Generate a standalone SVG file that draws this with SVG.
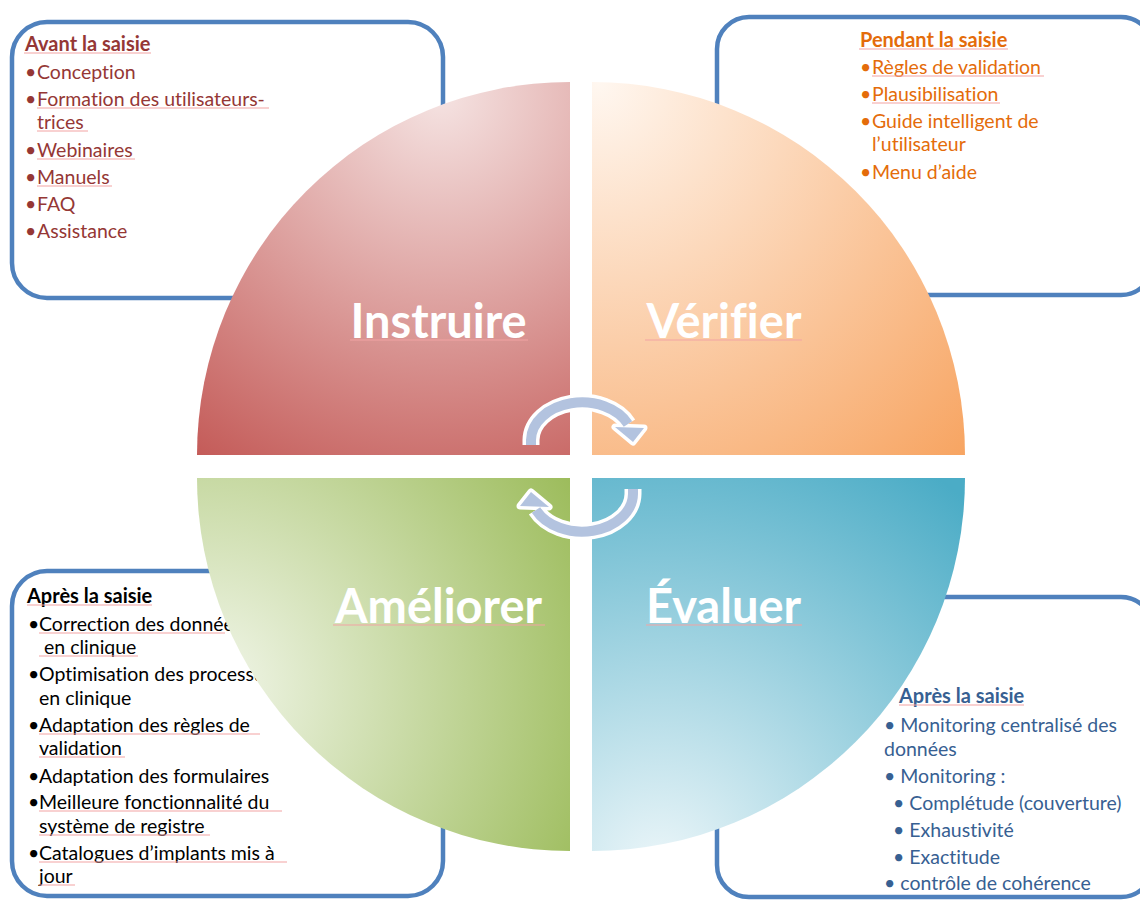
<svg xmlns="http://www.w3.org/2000/svg" width="1140" height="900" viewBox="0 0 1140 900">
  <defs>
    <radialGradient id="gRed" gradientUnits="userSpaceOnUse" cx="440" cy="95" r="470">
      <stop offset="0" stop-color="#f5e3e2"/>
      <stop offset="1" stop-color="#c0504d"/>
    </radialGradient>
    <radialGradient id="gOrange" gradientUnits="userSpaceOnUse" cx="598" cy="84" r="525">
      <stop offset="0" stop-color="#fff7f0"/>
      <stop offset="1" stop-color="#f7a461"/>
    </radialGradient>
    <radialGradient id="gGreen" gradientUnits="userSpaceOnUse" cx="205" cy="690" r="430">
      <stop offset="0" stop-color="#f3f7ec"/>
      <stop offset="1" stop-color="#9bbb59"/>
    </radialGradient>
    <radialGradient id="gBlue" gradientUnits="userSpaceOnUse" cx="660" cy="870" r="480">
      <stop offset="0" stop-color="#ecf6f9"/>
      <stop offset="1" stop-color="#4bacc6"/>
    </radialGradient>
  </defs>
  <style>
    text { font-variant-ligatures: none; }
    .box { fill: #ffffff; stroke: #4f81bd; stroke-width: 4.5; }
    .t { font-family: Lato, "Open Sans", sans-serif; font-size: 19.5px; }
    .h { font-family: Lato, "Open Sans", sans-serif; font-size: 20px; font-weight: bold; }
    .big { font-family: Lato, "Open Sans", sans-serif; font-size: 47px; font-weight: bold; fill: #ffffff; text-anchor: middle; }
    .red { fill: #953735; }
    .orange { fill: #e46c0a; }
    .black { fill: #000000; }
    .navy { fill: #376092; }
    .ul { stroke: #f2a3a3; stroke-width: 1; fill: none; }
    .arrow-halo { fill: none; stroke: #ffffff; stroke-width: 17; }
    .arrow-band { fill: none; stroke: #b3c3df; stroke-width: 10; }
    .head-halo { fill: #ffffff; stroke: #ffffff; stroke-width: 7; stroke-linejoin: round; }
    .head { fill: #b3c3df; }
  </style>

  <rect width="1140" height="900" fill="#ffffff"/>

  <!-- Before data entry -->
  <g id="box-avant">
    <rect class="box" x="12" y="22" width="431" height="276" rx="35"/>
    <text class="h red" x="25" y="51">Avant la saisie</text>
    <line class="ul" x1="24" y1="53" x2="151" y2="53"/>
    <g class="t red">
      <text x="25" y="79">•</text><text x="37" y="79">Conception</text>
      <text x="25" y="106">•</text><text x="37" y="106">Formation des utilisateurs-</text>
      <text x="37" y="129">trices</text>
      <text x="25" y="157">•</text><text x="37" y="157">Webinaires</text>
      <text x="25" y="184">•</text><text x="37" y="184">Manuels</text>
      <text x="25" y="211">•</text><text x="37" y="211">FAQ</text>
      <text x="25" y="238">•</text><text x="37" y="238">Assistance</text>
    </g>
    <line class="ul" x1="37" y1="108" x2="269" y2="108"/>
    <line class="ul" x1="37" y1="131" x2="88" y2="131"/>
    <line class="ul" x1="37" y1="159" x2="135" y2="159"/>
    <line class="ul" x1="37" y1="186" x2="112" y2="186"/>
  </g>

  <!-- During data entry -->
  <g id="box-pendant">
    <rect class="box" x="717" y="17" width="436" height="278" rx="32"/>
    <text class="h orange" x="860" y="47">Pendant la saisie</text>
    <line class="ul" x1="859" y1="49" x2="1008" y2="49"/>
    <g class="t orange">
      <text x="860" y="74">•</text><text x="872" y="74">Règles de validation</text>
      <text x="860" y="101">•</text><text x="872" y="101">Plausibilisation</text>
      <text x="860" y="128">•</text><text x="872" y="128">Guide intelligent de</text>
      <text x="872" y="151">l’utilisateur</text>
      <text x="860" y="179">•</text><text x="872" y="179">Menu d’aide</text>
    </g>
    <line class="ul" x1="872" y1="76" x2="1044" y2="76"/>
    <line class="ul" x1="872" y1="103" x2="1000" y2="103"/>
  </g>

  <!-- After data entry: improvements -->
  <g id="box-apres-ameliorer">
    <rect class="box" x="12" y="571" width="431" height="325" rx="35"/>
    <text class="h black" x="27" y="603">Après la saisie</text>
    <line class="ul" x1="27" y1="605" x2="152" y2="605"/>
    <g class="t black">
      <text x="28" y="631">•</text><text x="39" y="631">Correction des données</text>
      <text x="44" y="654">en clinique</text>
      <text x="28" y="681">•</text><text x="39" y="681">Optimisation des processus</text>
      <text x="39" y="705">en clinique</text>
      <text x="28" y="732">•</text><text x="39" y="732">Adaptation des règles de</text>
      <text x="39" y="755">validation</text>
      <text x="28" y="783">•</text><text x="39" y="783">Adaptation des formulaires</text>
      <text x="28" y="809">•</text><text x="39" y="809">Meilleure fonctionnalité du</text>
      <text x="39" y="833">système de registre</text>
      <text x="28" y="860">•</text><text x="39" y="860">Catalogues d’implants mis à</text>
      <text x="39" y="883">jour</text>
    </g>
    <line class="ul" x1="39" y1="633" x2="225" y2="633"/>
    <line class="ul" x1="39" y1="656" x2="138" y2="656"/>
    <line class="ul" x1="39" y1="734" x2="260" y2="734"/>
    <line class="ul" x1="39" y1="757" x2="125" y2="757"/>
    <line class="ul" x1="39" y1="811" x2="282" y2="811"/>
    <line class="ul" x1="39" y1="835" x2="210" y2="835"/>
    <line class="ul" x1="39" y1="862" x2="287" y2="862"/>
    <line class="ul" x1="39" y1="885" x2="75" y2="885"/>
  </g>

  <!-- After data entry: monitoring -->
  <g id="box-apres-evaluer">
    <rect class="box" x="717" y="597" width="436" height="300" rx="32"/>
    <text class="h navy" x="899" y="703">Après la saisie</text>
    <line class="ul" x1="899" y1="705" x2="1024" y2="705"/>
    <g class="t navy">
      <text x="884" y="732">• Monitoring centralisé des</text>
      <text x="884" y="756">données</text>
      <text x="884" y="783">• Monitoring :</text>
      <text x="893" y="810">• Complétude (couverture)</text>
      <text x="893" y="837">• Exhaustivité</text>
      <text x="893" y="864">• Exactitude</text>
      <text x="884" y="890">• contrôle de cohérence</text>
    </g>
  </g>

  <!-- The four quarter discs of the cycle -->
  <g id="quad-instruire">
    <path d="M570,455 L197,455 A373,373 0 0 1 570,82 Z" fill="url(#gRed)"/>
    <text class="big" x="438.5" y="338">Instruire</text>
    <line class="ul" x1="350" y1="340" x2="528" y2="340"/>
  </g>
  <g id="quad-verifier">
    <path d="M592,455 L592,82 A373,373 0 0 1 965,455 Z" fill="url(#gOrange)"/>
    <text class="big" x="724" y="338">Vérifier</text>
    <line class="ul" x1="645" y1="340" x2="802" y2="340"/>
  </g>
  <g id="quad-ameliorer">
    <path d="M570,478 L570,851 A373,373 0 0 1 197,478 Z" fill="url(#gGreen)"/>
    <text class="big" x="438.5" y="623">Améliorer</text>
    <line class="ul" x1="333" y1="625" x2="545" y2="625"/>
  </g>
  <g id="quad-evaluer">
    <path d="M592,478 L965,478 A373,373 0 0 1 592,851 Z" fill="url(#gBlue)"/>
    <text class="big" x="723.5" y="623">Évaluer</text>
    <line class="ul" x1="646" y1="625" x2="802" y2="625"/>
  </g>

  <!-- Cycle arrows -->
  <g id="connectors">
    <g id="arrow-top">
      <path class="arrow-halo" d="M531,445 L531,440 A51,38 0 0 1 628,424"/>
      <polygon class="head-halo" points="615,427 644,428 633,442"/>
      <path class="arrow-band" d="M531,445 L531,440 A51,38 0 0 1 628,424"/>
      <polygon class="head" points="615,427 644,428 633,442"/>
    </g>
    <g id="arrow-bottom" transform="rotate(180 582 467)">
      <path class="arrow-halo" d="M531,445 L531,440 A51,38 0 0 1 628,424"/>
      <polygon class="head-halo" points="615,427 644,428 633,442"/>
      <path class="arrow-band" d="M531,445 L531,440 A51,38 0 0 1 628,424"/>
      <polygon class="head" points="615,427 644,428 633,442"/>
    </g>
  </g>
</svg>
